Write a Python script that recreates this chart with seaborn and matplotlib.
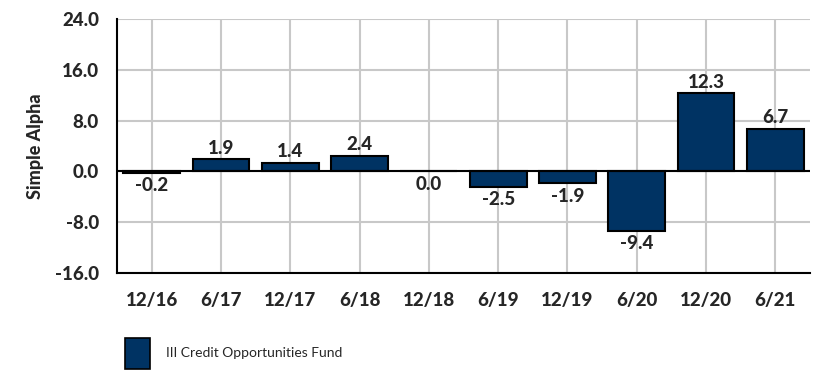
import matplotlib
matplotlib.use("Agg")
import matplotlib.pyplot as plt
import seaborn as sns
import pandas as pd
from matplotlib.patches import Patch

periods = ["12/16", "6/17", "12/17", "6/18", "12/18", "6/19", "12/19", "6/20", "12/20", "6/21"]
alpha = [-0.2, 1.9, 1.4, 2.4, 0.0, -2.5, -1.9, -9.4, 12.3, 6.7]
fund_name = "III Credit Opportunities Fund"
y_ticks = [-16.0, -8.0, 0.0, 8.0, 16.0, 24.0]

bar_color = "#003363"
grid_color = "#c8c8c8"
fs = 13.5

sns.set_theme(style="white")
plt.rcParams["font.family"] = ["Lato", "DejaVu Sans"]

df = pd.DataFrame({"period": periods, "alpha": alpha})

fig = plt.figure(figsize=(8.23, 3.70), dpi=100)
ax = fig.add_axes([0.1422, 0.2622, 0.842, 0.6864])

sns.barplot(data=df, x="period", y="alpha", color=bar_color, saturation=1,
            width=0.82, edgecolor="black", linewidth=1.5, ax=ax, zorder=3)

ax.set_ylim(-16, 24)
ax.set_xlim(-0.5, len(periods) - 0.5)
ax.set_yticks(y_ticks)
ax.set_yticklabels([f"{v:.1f}" for v in y_ticks], fontsize=fs, fontweight="black")
ax.set_xticklabels(periods, fontsize=fs, fontweight="black")

ax.grid(True, axis="both", color=grid_color, linewidth=1.5, zorder=0)
ax.set_axisbelow(True)
ax.tick_params(axis="both", length=9, width=1.5, color=grid_color, pad=4)
ax.tick_params(axis="x", pad=5)

for side in ["top", "right"]:
    ax.spines[side].set_visible(False)
for side in ["left", "bottom"]:
    ax.spines[side].set_color("black")
    ax.spines[side].set_linewidth(1.5)
    ax.spines[side].set_zorder(4)

ax.axhline(0, color="black", linewidth=1.5, zorder=4)

ax.set_xlabel("")
ax.set_ylabel("Simple Alpha", fontsize=13, fontweight="black", labelpad=8)

for i, v in enumerate(alpha):
    if v > 0:
        ax.annotate(f"{v:.1f}", (i, v), xytext=(0, 2), textcoords="offset points",
                    ha="center", va="bottom", fontsize=fs, fontweight="black", zorder=5)
    else:
        ax.annotate(f"{v:.1f}", (i, v), xytext=(0, -3), textcoords="offset points",
                    ha="center", va="top", fontsize=fs, fontweight="black", zorder=5)

handle = Patch(facecolor=bar_color, edgecolor="black", linewidth=1.2)
fig.legend([handle], [fund_name], loc="lower left", bbox_to_anchor=(0.137, -0.03),
           frameon=False, fontsize=10, handlelength=1.75, handleheight=3.0,
           handletextpad=1.2)

fig.savefig("out.png", dpi=100)
